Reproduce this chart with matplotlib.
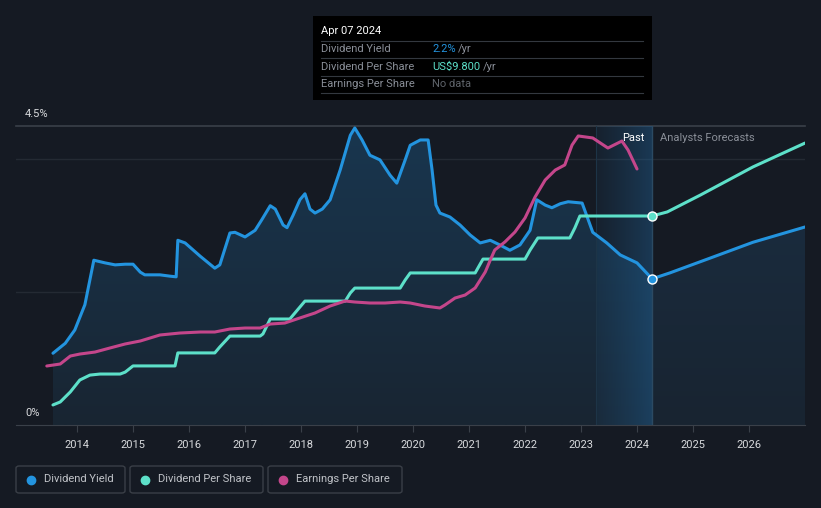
import numpy as np
import matplotlib
matplotlib.use("Agg")
import matplotlib.pyplot as plt
from matplotlib.patches import Rectangle, FancyBboxPatch
from matplotlib.lines import Line2D
from matplotlib.colors import LinearSegmentedColormap

plt.rcParams['font.family'] = ['Roboto', 'DejaVu Sans']

# --- data ---
yield_t = [2013.57, 2013.79, 2013.96, 2014.14, 2014.30, 2014.50, 2014.68, 2014.86, 2015.00, 2015.13,
           2015.21, 2015.48, 2015.66, 2015.77, 2015.80, 2015.93, 2016.20, 2016.46, 2016.55, 2016.73,
           2016.82, 2017.00, 2017.18, 2017.30, 2017.45, 2017.54, 2017.68, 2017.75, 2017.86, 2017.98,
           2018.07, 2018.16, 2018.25, 2018.38, 2018.52, 2018.70, 2018.88, 2018.96, 2019.09, 2019.23,
           2019.41, 2019.59, 2019.71, 2019.86, 2019.95, 2020.13, 2020.27, 2020.34, 2020.41, 2020.48,
           2020.66, 2020.84, 2021.02, 2021.20, 2021.38, 2021.55, 2021.73, 2021.91, 2022.09, 2022.21,
           2022.36, 2022.48, 2022.63, 2022.77, 2023.02, 2023.21, 2023.46, 2023.70, 2024.00, 2024.27]
yield_v = [1.08, 1.23, 1.43, 1.81, 2.48, 2.44, 2.41, 2.42, 2.42, 2.30,
           2.26, 2.26, 2.24, 2.23, 2.78, 2.74, 2.54, 2.36, 2.41, 2.89,
           2.90, 2.83, 2.93, 3.09, 3.30, 3.25, 3.01, 2.97, 3.16, 3.39,
           3.48, 3.25, 3.19, 3.25, 3.39, 3.84, 4.36, 4.47, 4.29, 4.06,
           3.99, 3.76, 3.64, 3.99, 4.21, 4.29, 4.29, 3.84, 3.31, 3.19,
           3.13, 3.01, 2.86, 2.74, 2.78, 2.71, 2.63, 2.71, 2.93, 3.39,
           3.31, 3.27, 3.33, 3.36, 3.34, 2.90, 2.74, 2.56, 2.44, 2.20]
yield_fc_t = [2024.27, 2024.59, 2025.30, 2026.07, 2027.00]
yield_fc_v = [2.20, 2.29, 2.51, 2.75, 2.98]

dps_t = [2013.57, 2013.70, 2013.88, 2014.05, 2014.23, 2014.41, 2014.77, 2014.86, 2015.00, 2015.75,
         2015.80, 2016.46, 2016.55, 2016.73, 2017.27, 2017.32, 2017.45, 2017.80, 2017.98, 2018.07,
         2018.79, 2018.88, 2018.96, 2019.77, 2019.86, 2019.95, 2021.11, 2021.20, 2021.25, 2022.00,
         2022.09, 2022.23, 2022.80, 2022.89, 2022.98, 2024.27]
dps_v = [0.94, 1.08, 1.55, 2.11, 2.34, 2.39, 2.39, 2.48, 2.77, 2.77,
         3.38, 3.38, 3.66, 4.17, 4.17, 4.27, 4.97, 4.97, 5.53, 5.81,
         5.81, 6.19, 6.42, 6.42, 6.80, 7.13, 7.13, 7.55, 7.78, 7.78,
         8.20, 8.77, 8.77, 9.24, 9.80, 9.80]
dps_fc_t = [2024.27, 2024.54, 2025.13, 2026.07, 2027.00]
dps_fc_v = [9.80, 9.99, 10.78, 12.10, 13.22]

eps_t = [2013.46, 2013.70, 2013.88, 2014.05, 2014.32, 2014.59, 2014.86, 2015.13, 2015.48, 2015.84,
         2016.20, 2016.46, 2016.73, 2017.00, 2017.27, 2017.45, 2017.71, 2017.98, 2018.25, 2018.52,
         2018.79, 2018.96, 2019.23, 2019.50, 2019.77, 2019.95, 2020.21, 2020.48, 2020.57, 2020.75,
         2020.93, 2021.11, 2021.29, 2021.38, 2021.46, 2021.64, 2021.82, 2022.00, 2022.18, 2022.36,
         2022.54, 2022.71, 2022.84, 2022.95, 2023.21, 2023.48, 2023.73, 2023.84, 2024.00]
eps_v = [5.92, 6.12, 6.92, 7.12, 7.32, 7.73, 8.13, 8.43, 9.03, 9.23,
         9.33, 9.33, 9.63, 9.73, 9.73, 10.13, 10.23, 10.74, 11.24, 11.94,
         12.44, 12.34, 12.24, 12.24, 12.34, 12.24, 11.94, 11.74, 12.04, 12.74,
         13.04, 13.75, 15.35, 16.55, 17.56, 18.36, 19.36, 20.77, 22.88, 24.58,
         25.58, 26.09, 28.09, 29.00, 28.80, 27.79, 28.49, 27.59, 25.69]

years = list(range(2014, 2027))
now_t = 2024.27
past_start = 2023.27

# --- colours ---
BG = '#151a23'
BLUE = '#2394df'
MINT = '#5de0c9'
PINK = '#c4468b'
TXT = '#d8dadd'
MUTED = '#8a8f98'

W, H = 821, 508
fig = plt.figure(figsize=(W / 100, H / 100), dpi=100, facecolor=BG)

def fx(px):
    return px / W

def fy(py):
    return 1 - py / H

XL = (2012.91, 2027.0)
YL = (0, 4.5)
ax = fig.add_axes([fx(16), fy(425), fx(805) - fx(16), fy(126) - fy(425)])
ax.set_facecolor(BG)

# grid lines
for g in [2, 4]:
    ax.axhline(g, color='#242a33', lw=1, zorder=0)
ax.axhline(4.5, color='#3a4049', lw=1.2, zorder=0, clip_on=False)

# gradient fills under yield (lighter at top, darker at bottom)
vgrad = np.linspace(1, 0, 200).reshape(-1, 1)
past_cmap = LinearSegmentedColormap.from_list('past', ['#182532', '#19364f'])
fc_cmap = LinearSegmentedColormap.from_list('fc', ['#182431', '#1a2b3d'])
poly = ax.fill_between(yield_t, yield_v, 0, facecolor='none', lw=0)
im = ax.imshow(vgrad, extent=[yield_t[0], yield_t[-1], 0, max(yield_v)], aspect='auto',
               cmap=past_cmap, zorder=1, interpolation='bilinear')
im.set_clip_path(poly.get_paths()[0], transform=ax.transData)
poly2 = ax.fill_between(yield_fc_t, yield_fc_v, 0, facecolor='none', lw=0)
im2 = ax.imshow(vgrad, extent=[yield_fc_t[0], yield_fc_t[-1], 0, max(yield_fc_v)], aspect='auto',
                cmap=fc_cmap, zorder=1, interpolation='bilinear')
im2.set_clip_path(poly2.get_paths()[0], transform=ax.transData)

# past highlight band (horizontal gradient)
hgrad = np.linspace(0, 1, 100).reshape(1, -1)
band_cmap = LinearSegmentedColormap.from_list(
    'band', [(0.13, 0.38, 0.58, 0.10), (0.13, 0.42, 0.65, 0.38)])
ax.imshow(hgrad, extent=[past_start, now_t, 0, 4.5], aspect='auto', cmap=band_cmap,
          zorder=1.5, interpolation='bilinear')
ax.plot([past_start, past_start], [0, 4.5], color='#1d3447', lw=0.8, zorder=1.6)
ax.plot([now_t, now_t], [0, 4.5], color='#2b4a63', lw=1, zorder=2)
ax.set_xlim(*XL)
ax.set_ylim(*YL)

ax.plot(yield_t, yield_v, color=BLUE, lw=2.2, zorder=5, solid_capstyle='round', solid_joinstyle='round')
ax.plot(yield_fc_t, yield_fc_v, color=BLUE, lw=2.2, zorder=5, solid_capstyle='round')
ax.plot([now_t], [yield_v[-1]], 'o', ms=6.5, color=BLUE, mec='white', mew=1, zorder=8)

for s in ['top', 'right', 'left']:
    ax.spines[s].set_visible(False)
ax.spines['bottom'].set_color('#3a4049')
ax.set_yticks([])
ax.set_xticks(years)
ax.set_xticklabels([str(y) for y in years], fontsize=8)
ax.tick_params(axis='x', colors='#3a4049', length=5, labelcolor=TXT, pad=6)

# dividend per share
ax2 = ax.twinx()
ax2.set_ylim(0, 14.02)
ax2.plot(dps_t, dps_v, color=MINT, lw=2.2, zorder=5, solid_capstyle='round', solid_joinstyle='round')
ax2.plot(dps_fc_t, dps_fc_v, color=MINT, lw=2.2, zorder=5, solid_capstyle='round')
ax2.plot([now_t], [dps_v[-1]], 'o', ms=6.5, color=MINT, mec='white', mew=1, zorder=8)
ax2.axis('off')

# earnings per share
ax3 = ax.twinx()
ax3.set_ylim(0, 30)
ax3.plot(eps_t, eps_v, color=PINK, lw=2.2, solid_capstyle='round', solid_joinstyle='round')
ax3.axis('off')
for a in (ax2, ax3):
    a.set_xlim(*XL)

# axis text
fig.text(fx(25), fy(114), '4.5%', color=TXT, fontsize=8, va='center')
fig.text(fx(25), fy(413), '0%', color=TXT, fontsize=8, va='center')
fig.text(fx(644), fy(138), 'Past', color='white', fontsize=8, va='center', ha='right')
fig.text(fx(660), fy(138), 'Analysts Forecasts', color=MUTED, fontsize=8, va='center')

# tooltip
fig.patches.append(Rectangle((fx(313), fy(100)), fx(652) - fx(313), fy(16) - fy(100),
                             transform=fig.transFigure, facecolor='black', edgecolor='none', zorder=10))
fig.text(fx(321), fy(31), 'Apr 07 2024', color='white', fontsize=8, va='center', zorder=11)
rows = [('Dividend Yield', '2.2%', BLUE, 458), ('Dividend Per Share', 'US$9.800', MINT, 483),
        ('Earnings Per Share', 'No data', '#5f646b', None)]
for i, (lab, val, col, yr_x) in enumerate(rows):
    yy = 49 + i * 17.5
    fig.text(fx(321), fy(yy), lab, color=MUTED, fontsize=8, va='center', zorder=11)
    fig.text(fx(432), fy(yy), val, color=col, fontsize=8, va='center', zorder=11)
    if yr_x:
        fig.text(fx(yr_x), fy(yy), '/yr', color=MUTED, fontsize=8, va='center', zorder=11)
for ly in [41, 58, 76, 93]:
    fig.lines.append(Line2D([fx(321), fx(643)], [fy(ly), fy(ly)], transform=fig.transFigure,
                            color='#33383f', lw=0.8, zorder=11))

# legend boxes
legend = [('Dividend Yield', BLUE, 16, 125), ('Dividend Per Share', MINT, 130, 263),
          ('Earnings Per Share', PINK, 268, 402)]
for lab, col, x0, x1 in legend:
    fig.patches.append(FancyBboxPatch((fx(x0), fy(493)), fx(x1) - fx(x0), fy(466) - fy(493),
                                      boxstyle='round,pad=0,rounding_size=0.004',
                                      transform=fig.transFigure, facecolor='none',
                                      edgecolor='#3a3f47', lw=1))
    fig.lines.append(Line2D([fx(x0 + 15)], [fy(479.5)], marker='o', ms=6, color=col,
                            transform=fig.transFigure))
    fig.text(fx(x0 + 28), fy(479.5), lab, color='#c0c3c8', fontsize=8, va='center')

fig.savefig('out.png', dpi=100, facecolor=BG)
